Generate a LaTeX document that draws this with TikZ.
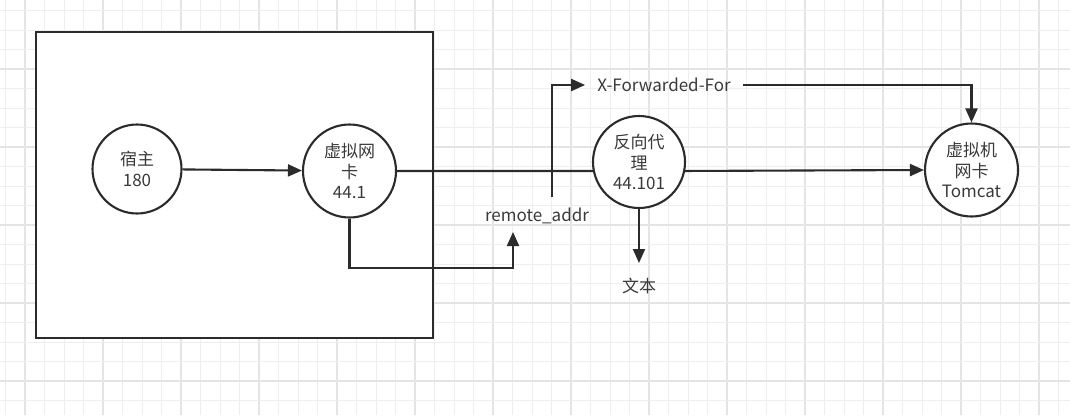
\documentclass[tikz,border=0pt]{standalone}
\usepackage{fontspec}
\setmainfont{Noto Sans CJK SC}
\usetikzlibrary{arrows.meta}
\definecolor{gridminor}{HTML}{EEEEEE}
\definecolor{gridmajor}{HTML}{E4E4E4}
\definecolor{ink}{HTML}{2B2B2B}
\definecolor{txt}{HTML}{3A3A3A}
\tikzset{
  bubble/.style={circle, draw=ink, line width=2.1pt, fill=white, minimum size=#1, inner sep=0pt,
     align=center, text=txt, font=\fontsize{17pt}{20.5pt}\selectfont},
  lbl/.style={text=txt, font=\fontsize{17pt}{20pt}\selectfont, inner sep=0pt},
  conn/.style={draw=ink, line width=2.1pt},
  arr/.style={conn, -{Triangle[length=14pt,width=12pt]}},
}
\begin{document}
\begin{tikzpicture}[x=1pt,y=-1pt]
\useasboundingbox (0,0) rectangle (1070,415);
\fill[white] (0,0) rectangle (1070,415);
% grid
\foreach \k in {0,...,54} {
  \pgfmathsetmacro{\xx}{5.5+19.5*\k}
  \pgfmathtruncatemacro{\m}{mod(\k,4)}
  \ifnum\m=1 \draw[gridmajor, line width=1.2pt] (\xx,0) -- (\xx,415);
  \else \draw[gridminor, line width=1pt] (\xx,0) -- (\xx,415); \fi
}
\foreach \k in {0,...,20} {
  \pgfmathsetmacro{\yy}{10.5+19.5*\k}
  \pgfmathtruncatemacro{\m}{mod(\k,4)}
  \ifnum\m=3 \draw[gridmajor, line width=1.2pt] (0,\yy) -- (1070,\yy);
  \else \draw[gridminor, line width=1pt] (0,\yy) -- (1070,\yy); \fi
}
% big box
\draw[ink, line width=2.4pt, fill=white] (36,32) rectangle (433,338);

% nodes
\node[bubble=89pt] (host) at (137,169) {宿主\\180};
\node[bubble=93pt] (vnic) at (349.5,171) {虚拟网\\卡\\44.1};
\node[bubble=92pt] (proxy) at (639,162) {反向代\\理\\44.101};
\node[bubble=93pt] (tomcat) at (971.5,170) {虚拟机\\网卡\\Tomcat};
\node[lbl, inner xsep=12pt] (xff) at (664,85) {X-Forwarded-For};
\node[lbl] (ra) at (537,216) {remote\_addr};
\node[lbl] (wb) at (639,286) {文本};

\coordinate (up) at (552,197);
\coordinate (bend) at (513,268);
\coordinate (ratip) at (513,232);
\coordinate (wbtip) at (639,263);

% connectors
\draw[arr] (host) -- (vnic);
\draw[conn] (vnic.east) -- (proxy.191);
\draw[arr] (proxy.-11) -- (tomcat.west);
\draw[arr] (up) |- (xff.west);
\draw[arr] (xff.east) -| (tomcat.north);
\draw[arr] (vnic.south) |- (bend) -- (ratip);
\draw[arr] (proxy.south) -- (wbtip);
\end{tikzpicture}
\end{document}
